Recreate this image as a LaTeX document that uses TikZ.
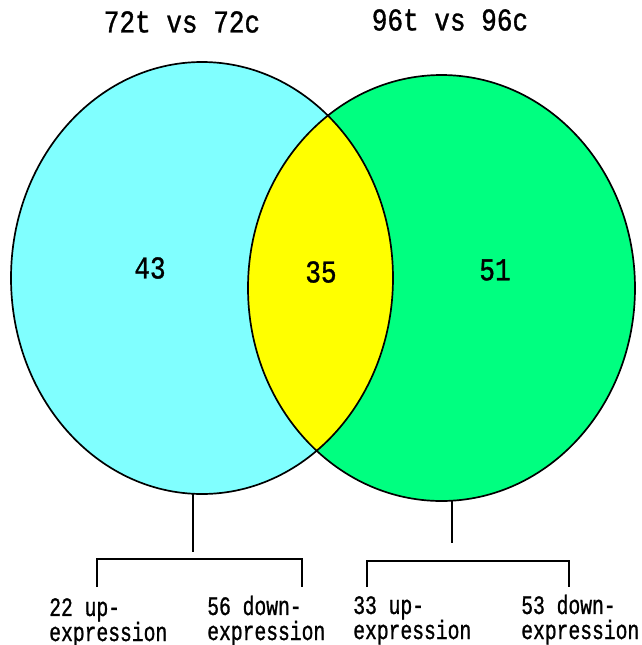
\documentclass[tikz,border=0pt]{standalone}
\usepackage{fontspec}
\newfontfamily\titlefont[FakeStretch=0.82,FakeBold=1]{Liberation Mono}
\newfontfamily\exprfont[FakeStretch=0.74,FakeBold=1]{Liberation Mono}
\definecolor{setcyan}{HTML}{80FFFF}
\definecolor{setgreen}{HTML}{00FF80}
\definecolor{lensyellow}{HTML}{FFFF00}

\begin{document}
\begin{tikzpicture}[x=0.25mm,y=-0.25mm,
    title/.style={font=\titlefont\fontsize{22.6}{24}\selectfont, inner sep=0pt},
    count/.style={font=\titlefont\fontsize{22.6}{24}\selectfont, inner sep=0pt},
    expr/.style={font=\exprfont\fontsize{18.9}{17.8}\selectfont, align=left, anchor=base west, inner sep=0pt},
    outline/.style={line width=1.2pt},
    stem/.style={line width=1.3pt}]
    \useasboundingbox (0,0) rectangle (642,645);

    % the two sets
    \coordinate (cL) at (202,278);
    \coordinate (cR) at (441.5,288);
    \fill[setcyan] (cL) ellipse [x radius=191, y radius=216];
    \fill[setgreen] (cR) ellipse [x radius=193.5, y radius=213];
    \begin{scope}
        \clip (cL) ellipse [x radius=191, y radius=216];
        \fill[lensyellow] (cR) ellipse [x radius=193.5, y radius=213];
    \end{scope}
    \draw[outline] (cL) ellipse [x radius=191, y radius=216];
    \draw[outline] (cR) ellipse [x radius=193.5, y radius=213];

    \node[title] (tL) at (182,22) {72t vs 72c};
    \node[title] (tR) at (450,20) {96t vs 96c};
    \node[count] (nL) at (150,268) {43};
    \node[count] (nM) at (321,272) {35};
    \node[count] (nR) at (495,270) {51};

    % split of each set (base = last line)
    \node[expr] (upL) at (49,641) {22 up-\\expression};
    \node[expr] (dnL) at (207,640) {56 down-\\expression};
    \node[expr] (upR) at (353,639) {33 up-\\expression};
    \node[expr] (dnR) at (521,639) {53 down-\\expression};

    \coordinate (sLtop) at (193,494);
    \coordinate (sLbot) at (193,552);
    \coordinate (sRtop) at (452,501);
    \coordinate (sRbot) at (452,543);
    \coordinate (bL1) at (97,587);
    \coordinate (bL2) at (302,587);
    \coordinate (bR1) at (367,587);
    \coordinate (bR2) at (569,587);

    \draw[stem] (sLtop) -- (sLbot);
    \draw[stem] (sRtop) -- (sRbot);
    \draw[stem] (bL1) -- ++(0,-28) -| (bL2);
    \draw[stem] (bR1) -- ++(0,-26) -| (bR2);
\end{tikzpicture}
\end{document}
